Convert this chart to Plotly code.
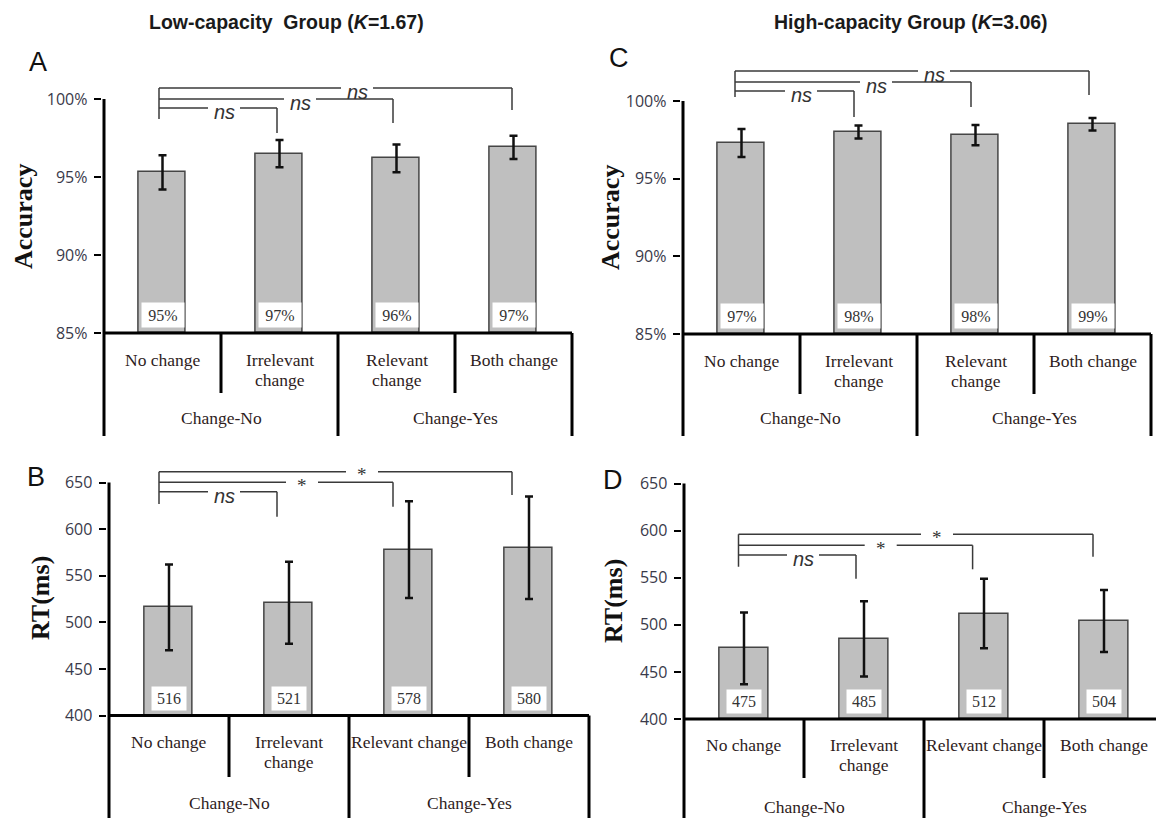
import plotly.graph_objects as go

FIG_W, FIG_H = 1156, 818

# ---------------- data ----------------
conditions_acc = ["No change", "Irrelevant<br>change", "Relevant<br>change", "Both change"]
conditions_rt = ["No change", "Irrelevant<br>change", "Relevant change", "Both change"]
groups = ["Change-No", "Change-Yes"]

acc_low = [95.3, 96.5, 96.2, 96.9]
acc_low_err = [1.10, 0.87, 0.89, 0.74]
acc_low_labels = ["95%", "97%", "96%", "97%"]

acc_high = [97.3, 98.0, 97.8, 98.5]
acc_high_err = [0.90, 0.42, 0.65, 0.40]
acc_high_labels = ["97%", "98%", "98%", "99%"]

rt_low = [516, 521, 578, 580]
rt_low_err = [46, 44, 52, 55]
rt_low_labels = ["516", "521", "578", "580"]

rt_high = [475, 485, 512, 504]
rt_high_err = [38, 40, 37, 33]
rt_high_labels = ["475", "485", "512", "504"]

acc_ticks = [85, 90, 95, 100]
acc_ticktext = ["85%", "90%", "95%", "100%"]
rt_ticks = [400, 450, 500, 550, 600, 650]
rt_ticktext = ["400", "450", "500", "550", "600", "650"]

comparisons = [(0, 1), (0, 2), (0, 3)]
sig_low_acc = ["ns", "ns", "ns"]
sig_high_acc = ["ns", "ns", "ns"]
sig_low_rt = ["ns", "*", "*"]
sig_high_rt = ["ns", "*", "*"]

titles = ["Low-capacity\u00a0 Group (<i>K</i>=1.67)", "High-capacity Group (<i>K</i>=3.06)"]

# ---------------- layout specs (pixels) ----------------
PANELS = [
    dict(letter="A", ax="", values=acc_low, err=acc_low_err, labels=acc_low_labels,
         cats=conditions_acc, ticks=acc_ticks, ticktext=acc_ticktext, sig=sig_low_acc,
         ytitle="Accuracy", ytitle_pos=(23, 217), letter_pos=(38, 62),
         axis_px=104, cat_px=117, vals=(85, 100), val_px=(333, 99), top_px=56, bot_px=437,
         label_px=360, sep_px=393, long_px=436, group_px=418,
         box=(42, 24), bar_w=0.40,
         br_left=159, br_right=[277, 393, 512], br_line=[108, 99, 88], br_drop=[133, 123, 110],
         br_left_drop=119, br_text=[224, 300, 357]),
    dict(letter="B", ax="2", values=rt_low, err=rt_low_err, labels=rt_low_labels,
         cats=conditions_rt, ticks=rt_ticks, ticktext=rt_ticktext, sig=sig_low_rt,
         ytitle="RT(ms)", ytitle_pos=(40, 598), letter_pos=(36, 477),
         axis_px=109, cat_px=120, vals=(400, 650), val_px=(715.5, 482.5), top_px=452, bot_px=818,
         label_px=742, sep_px=777, long_px=818, group_px=803,
         box=(34, 23), bar_w=0.40,
         br_left=159, br_right=[277, 393, 512], br_line=[491.7, 482.3, 471.7], br_drop=[516.7, 506.7, 495],
         br_left_drop=504, br_text=[224, 302, 362]),
    dict(letter="C", ax="3", values=acc_high, err=acc_high_err, labels=acc_high_labels,
         cats=conditions_acc, ticks=acc_ticks, ticktext=acc_ticktext, sig=sig_high_acc,
         ytitle="Accuracy", ytitle_pos=(611, 218), letter_pos=(619, 58),
         axis_px=683, cat_px=117, vals=(85, 100), val_px=(334, 101), top_px=48, bot_px=437,
         label_px=361, sep_px=394, long_px=436, group_px=418,
         box=(42, 24), bar_w=0.40,
         br_left=735, br_right=[854, 971, 1089], br_line=[91, 82, 71], br_drop=[117, 107, 95],
         br_left_drop=97, br_text=[801, 876, 934]),
    dict(letter="D", ax="4", values=rt_high, err=rt_high_err, labels=rt_high_labels,
         cats=conditions_rt, ticks=rt_ticks, ticktext=rt_ticktext, sig=sig_high_rt,
         ytitle="RT(ms)", ytitle_pos=(613, 601), letter_pos=(613, 480),
         axis_px=684, cat_px=120, vals=(400, 650), val_px=(719, 483.5), top_px=452, bot_px=818,
         label_px=745, sep_px=778, long_px=818, group_px=807,
         box=(34, 23), bar_w=0.41,
         br_left=738.5, br_right=[856, 972.6, 1093], br_line=[555, 545.3, 534.3], br_drop=[578.7, 569.3, 556.7],
         br_left_drop=566.7, br_text=[803, 880.7, 937]),
]

BAR_FILL = "#bfbfbf"
BAR_LINE = "#454545"
AXIS_COL = "#000000"
BRACKET_COL = "#3a3a3a"
LABEL_COL = "#2e1c1c"
TICK_COL = "#3a3a4a"
SERIF = "Liberation Serif"
SANS = "Liberation Sans"

fig = go.Figure()
shapes = []
annotations = []
layout_axes = {}

for p in PANELS:
    L, W = p["axis_px"], p["cat_px"]
    v_lo, v_hi = p["vals"]
    p_lo, p_hi = p["val_px"]
    k = (v_hi - v_lo) / (p_lo - p_hi)

    def yv(px, v_lo=v_lo, p_lo=p_lo, k=k):
        return v_lo + (p_lo - px) * k

    def xv(px, L=L, W=W):
        return (px - L) / W - 0.5

    x_lo = -0.52
    x_hi = min(3.52, xv(FIG_W))
    dom_x = [(L + (x_lo + 0.5) * W) / FIG_W, min(1.0, (L + (x_hi + 0.5) * W) / FIG_W)]
    dom_y = [max(0.0, 1 - p["bot_px"] / FIG_H), 1 - p["top_px"] / FIG_H]
    y_range = [yv(p["bot_px"]), yv(p["top_px"])]

    xa, ya = "x" + p["ax"], "y" + p["ax"]
    xname, yname = "xaxis" + p["ax"], "yaxis" + p["ax"]
    layout_axes[xname] = dict(domain=dom_x, range=[x_lo, x_hi], visible=False, anchor=ya, fixedrange=True)
    layout_axes[yname] = dict(domain=dom_y, range=y_range, anchor=xa, showgrid=False, zeroline=False,
                              showline=False, tickmode="array", tickvals=p["ticks"], ticktext=p["ticktext"],
                              ticks="outside", ticklen=7, tickwidth=2, tickcolor=AXIS_COL,
                              ticklabelstandoff=3,
                              tickfont=dict(family="Open Sans", size=16, color=TICK_COL), fixedrange=True)

    base = v_lo
    xs = list(range(len(p["values"])))
    fig.add_trace(go.Bar(
        x=xs, y=[v - base for v in p["values"]], base=base, width=p["bar_w"],
        marker=dict(color=BAR_FILL, line=dict(color=BAR_LINE, width=1.5)),
        error_y=dict(type="data", array=p["err"], visible=True, color="#111111", thickness=2.5, width=4),
        xaxis=xa, yaxis=ya, showlegend=False, hoverinfo="skip",
    ))

    def line(x0, y0, x1, y1, color=AXIS_COL, width=3):
        shapes.append(dict(type="line", xref=xa, yref=ya, x0=x0, y0=y0, x1=x1, y1=y1,
                           line=dict(color=color, width=width), layer="above"))

    # axes frame
    line(-0.5, v_lo, x_hi if x_hi < 3.5 else 3.5, v_lo)                       # x-axis
    line(-0.5, v_hi, -0.5, yv(p["long_px"]))                                  # y-axis down to bottom
    line(1.5, v_lo, 1.5, yv(p["long_px"]))                                    # group separator
    if x_hi >= 3.5:
        line(3.5, v_lo, 3.5, yv(p["long_px"]))
    for sx in (0.5, 2.5):
        line(sx, v_lo, sx, yv(p["sep_px"]))

    # value boxes
    bw, bh = p["box"]
    for i, lab in enumerate(p["labels"]):
        annotations.append(dict(xref=xa, yref=ya, x=i, y=v_lo, text=lab, showarrow=False,
                                yanchor="bottom", yshift=5, width=bw, height=bh, borderpad=0,
                                bgcolor="white", font=dict(family=SERIF, size=16, color="#333333")))

    # category labels
    for i, cat in enumerate(p["cats"]):
        for j, part in enumerate(cat.split("<br>")):
            annotations.append(dict(xref=xa, yref=ya, x=i, y=yv(p["label_px"]), text=part,
                                    showarrow=False, yanchor="middle", yshift=-20 * j,
                                    font=dict(family=SERIF, size=17.5, color=LABEL_COL)))
    for g, gname in enumerate(groups):
        gx = 0.5 + 2 * g
        if gx < x_hi:
            annotations.append(dict(xref=xa, yref=ya, x=gx, y=yv(p["group_px"]), text=gname,
                                    showarrow=False, yanchor="middle",
                                    font=dict(family=SERIF, size=17.5, color=LABEL_COL)))

    # significance brackets
    bl = xv(p["br_left"])
    top_line = min(p["br_line"])
    line(bl, yv(top_line), bl, yv(p["br_left_drop"]), color=BRACKET_COL, width=1.5)
    half_gap = 16 / W
    for n, (a, b) in enumerate(comparisons):
        yl = yv(p["br_line"][n])
        xr = xv(p["br_right"][n])
        tx = xv(p["br_text"][n])
        line(bl, yl, tx - half_gap, yl, color=BRACKET_COL, width=1.5)
        line(tx + half_gap, yl, xr, yl, color=BRACKET_COL, width=1.5)
        line(xr, yl, xr, yv(p["br_drop"][n]), color=BRACKET_COL, width=1.5)
        s = p["sig"][n]
        if s == "ns":
            annotations.append(dict(xref=xa, yref=ya, x=tx, y=yl, text="<i>ns</i>", showarrow=False,
                                    yanchor="middle", yshift=-4,
                                    font=dict(family=SANS, size=20, color="#333333")))
        else:
            annotations.append(dict(xref=xa, yref=ya, x=tx, y=yl, text=s, showarrow=False,
                                    yanchor="middle", yshift=-3,
                                    font=dict(family=SERIF, size=19, color="#333333")))

    # y-axis title & panel letter
    tx_px, ty_px = p["ytitle_pos"]
    annotations.append(dict(xref="paper", yref="paper", x=tx_px / FIG_W, y=1 - ty_px / FIG_H,
                            text="<b>%s</b>" % p["ytitle"], textangle=-90, showarrow=False,
                            xanchor="center", yanchor="middle",
                            font=dict(family=SERIF, size=26, color="#111111")))
    lx, ly = p["letter_pos"]
    annotations.append(dict(xref="paper", yref="paper", x=lx / FIG_W, y=1 - ly / FIG_H,
                            text=p["letter"], showarrow=False, xanchor="center", yanchor="middle",
                            font=dict(family=SANS, size=27, color="#111111")))

# column titles
for t, cx in zip(titles, (286, 911)):
    annotations.append(dict(xref="paper", yref="paper", x=cx / FIG_W, y=1 - 22 / FIG_H,
                            text="<b>%s</b>" % t, showarrow=False, xanchor="center", yanchor="middle",
                            font=dict(family=SANS, size=19.5, color="#1a1a1a")))

fig.update_layout(
    width=FIG_W, height=FIG_H, margin=dict(l=0, r=0, t=0, b=0),
    paper_bgcolor="white", plot_bgcolor="white",
    shapes=shapes, annotations=annotations, showlegend=False, bargap=0,
    **layout_axes,
)

fig.write_html("out.html", config={"displayModeBar": False})
